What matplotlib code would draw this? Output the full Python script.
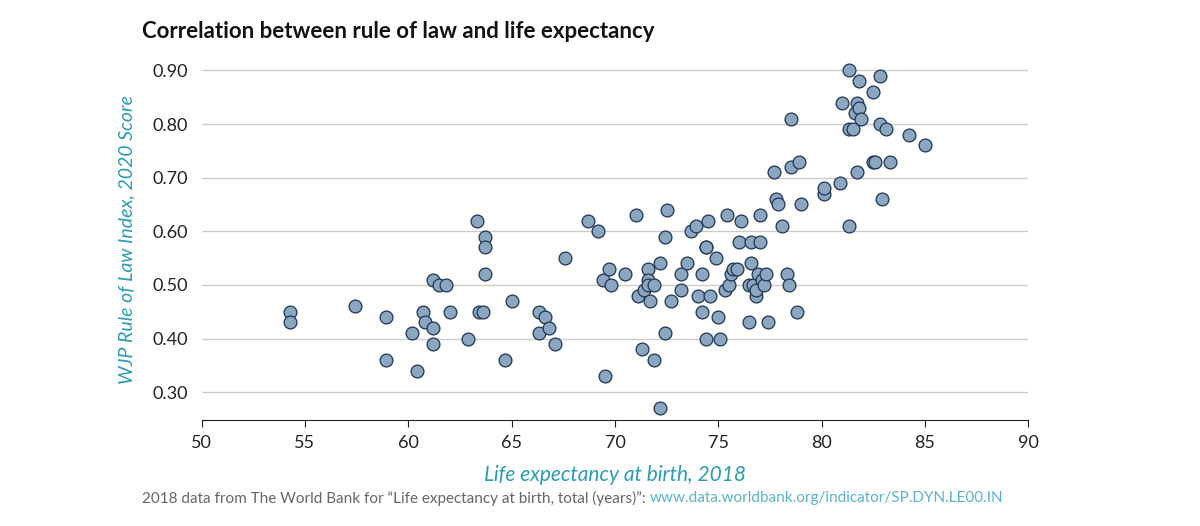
import matplotlib
matplotlib.use("Agg")
import matplotlib.pyplot as plt

life_exp = [54.3,54.3,57.4,58.9,58.9,60.2,60.4,60.7,60.8,61.2,61.2,61.2,61.5,61.8,62.0,62.9,63.3,63.4,63.6,63.7,63.7,63.7,64.7,65.0,66.3,66.3,66.6,66.8,67.1,67.6,68.7,69.2,69.4,69.5,69.7,69.8,70.5,71.0,71.1,71.3,71.4,71.6,71.6,71.6,71.7,71.9,71.9,72.2,72.2,72.4,72.4,72.5,72.7,73.2,73.2,73.5,73.7,73.9,74.0,74.2,74.2,74.4,74.4,74.4,74.5,74.6,74.9,75.0,75.1,75.3,75.4,75.5,75.6,75.7,75.9,76.0,76.1,76.5,76.5,76.6,76.6,76.7,76.8,76.8,76.9,77.0,77.0,77.1,77.2,77.3,77.4,77.7,77.8,77.9,78.1,78.3,78.4,78.5,78.5,78.8,78.9,79.0,80.1,80.1,80.9,81.0,81.3,81.3,81.3,81.5,81.6,81.7,81.7,81.8,81.8,81.9,82.5,82.5,82.6,82.8,82.8,82.9,83.1,83.3,84.2,85.0]
rule_of_law = [0.45,0.43,0.46,0.44,0.36,0.41,0.34,0.45,0.43,0.51,0.42,0.39,0.50,0.50,0.45,0.40,0.62,0.45,0.45,0.59,0.57,0.52,0.36,0.47,0.45,0.41,0.44,0.42,0.39,0.55,0.62,0.60,0.51,0.33,0.53,0.50,0.52,0.63,0.48,0.38,0.49,0.53,0.51,0.50,0.47,0.36,0.50,0.27,0.54,0.41,0.59,0.64,0.47,0.49,0.52,0.54,0.60,0.61,0.48,0.45,0.52,0.40,0.57,0.57,0.62,0.48,0.55,0.44,0.40,0.49,0.63,0.50,0.52,0.53,0.53,0.58,0.62,0.43,0.50,0.54,0.58,0.50,0.48,0.49,0.52,0.63,0.58,0.51,0.50,0.52,0.43,0.71,0.66,0.65,0.61,0.52,0.50,0.72,0.81,0.45,0.73,0.65,0.67,0.68,0.69,0.84,0.61,0.79,0.90,0.79,0.82,0.71,0.84,0.88,0.83,0.81,0.86,0.73,0.73,0.80,0.89,0.66,0.79,0.73,0.78,0.76]
x_ticks = [50,55,60,65,70,75,80,85,90]
y_ticks = [0.30,0.40,0.50,0.60,0.70,0.80,0.90]

plt.rcParams['font.family'] = ['Lato', 'DejaVu Sans']
fig = plt.figure(figsize=(12, 5.26), dpi=100)
ax = fig.add_axes([0.168, 0.2015, 0.689, 0.685])
ax.scatter(life_exp, rule_of_law, s=85, facecolor='#8aa6c0', edgecolor='#1f3550', linewidth=0.9, zorder=3)
ax.set_xlim(50, 90)
ax.set_ylim(0.248, 0.92)
ax.set_xticks(x_ticks)
ax.set_yticks(y_ticks)
ax.set_yticklabels([f"{v:.2f}" for v in y_ticks])
ax.grid(axis='y', color='#cccccc', linewidth=1)
ax.set_axisbelow(True)
for s in ['top', 'right', 'left']:
    ax.spines[s].set_visible(False)
ax.spines['bottom'].set_color('#222222')
ax.tick_params(axis='both', labelsize=13, colors='#222222', length=0, pad=10)
ax.tick_params(axis='x', length=5, pad=6)
teal = '#2a9db5'
ax.set_xlabel('Life expectancy at birth, 2018', fontsize=15, style='italic', color=teal, labelpad=10)
ax.set_ylabel('WJP Rule of Law Index, 2020 Score', fontsize=14, style='italic', color=teal, labelpad=12)
fig.text(142/1200, 1-32/526, 'Correlation between rule of law and life expectancy', fontsize=16, fontweight='bold', color='#111111', va='center')
t1 = fig.text(142/1200, 1-498/526, '2018 data from The World Bank for \u201cLife expectancy at birth, total (years)\u201d: ', fontsize=11, color='#666666', va='center')
fig.canvas.draw()
bb = t1.get_window_extent()
fig.text(bb.x1/1200, 1-498/526, 'www.data.worldbank.org/indicator/SP.DYN.LE00.IN', fontsize=11, color='#5ab4c8', va='center')
fig.savefig('out.png', dpi=100)
